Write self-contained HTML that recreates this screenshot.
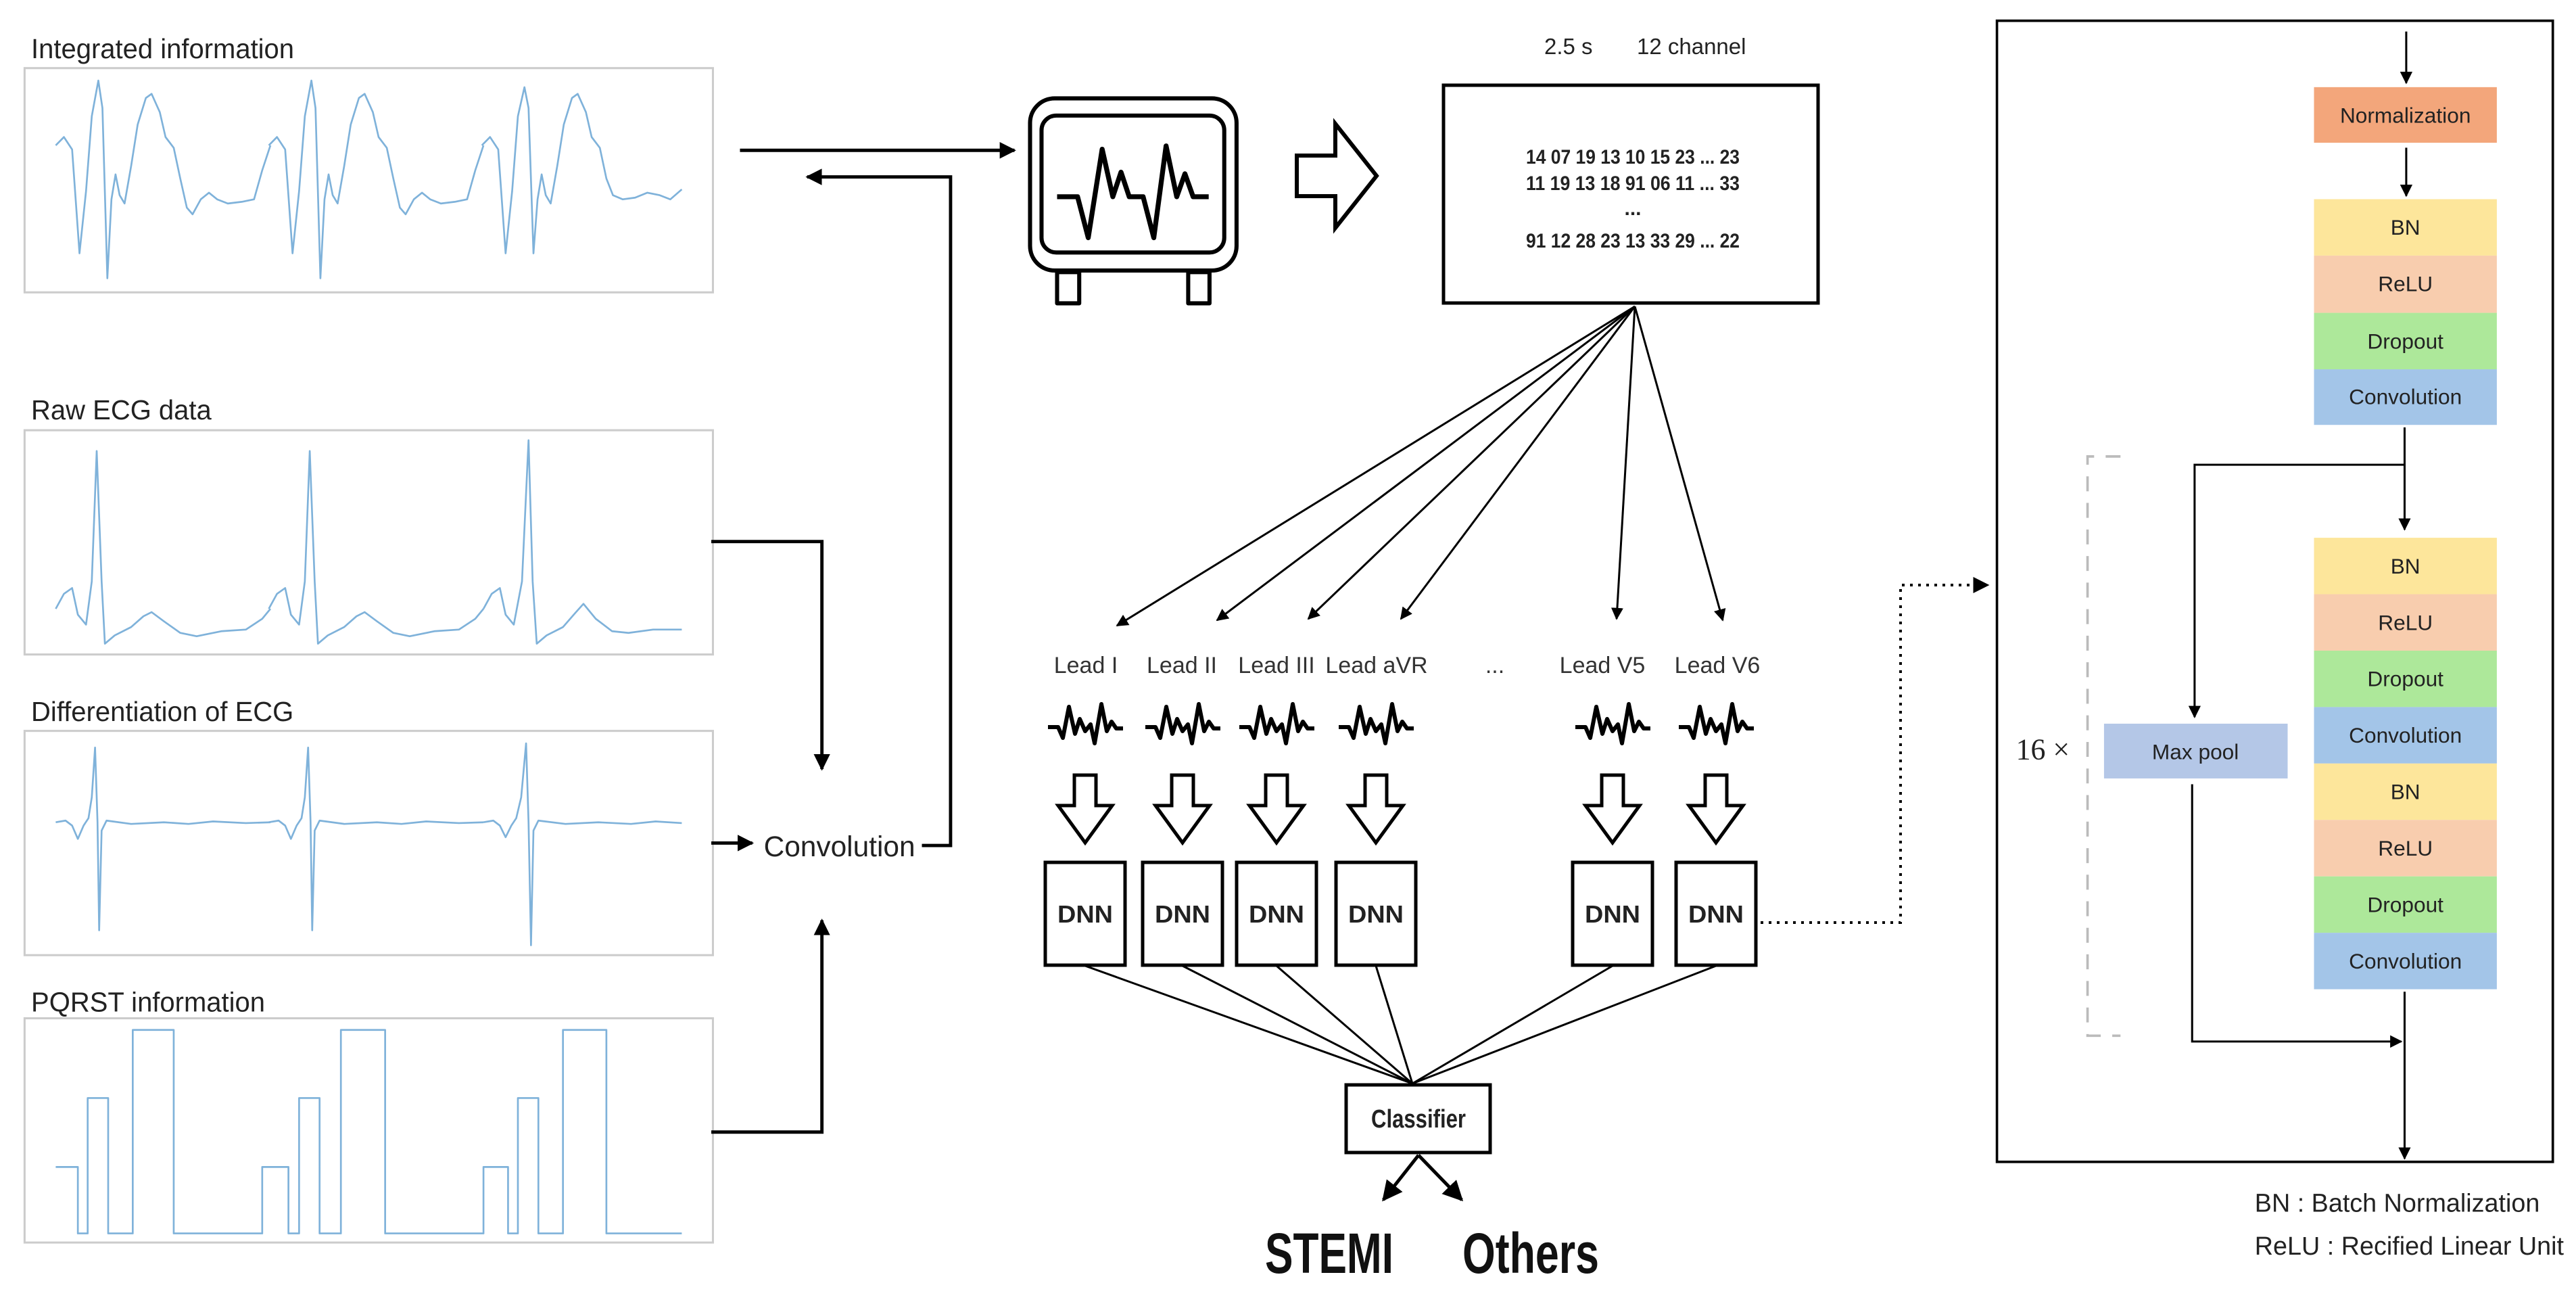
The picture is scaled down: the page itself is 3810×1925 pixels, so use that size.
<!DOCTYPE html>
<html><head><meta charset="utf-8"><style>
html,body{margin:0;padding:0;background:#fff;}
svg{display:block;font-family:"Liberation Sans",sans-serif;}
</style></head><body>
<svg width="3810" height="1925" viewBox="0 0 3810 1925" xmlns="http://www.w3.org/2000/svg">
<defs>
<marker id="ah" viewBox="0 0 10 10" refX="9" refY="5" markerWidth="5" markerHeight="5" orient="auto" markerUnits="strokeWidth"><path d="M0,0 L10,5 L0,10 Z" fill="#000"/></marker>
<marker id="ahs" viewBox="0 0 10 10" refX="9" refY="5" markerWidth="6" markerHeight="6" orient="auto" markerUnits="strokeWidth"><path d="M0,0 L10,5 L0,10 Z" fill="#000"/></marker>
<path id="sq" d="M-55,0 L-40,0 L-33,16 L-24,-30 L-15,10 L-8,-12 L0,6 L8,-4 L14,24 L24,-34 L32,6 L39,-8 L46,2 L56,2" fill="none" stroke="#000" stroke-width="6" stroke-linejoin="round"/>
<path id="da" d="M-16,0 L16,0 L16,45 L40,45 L0,100 L-40,45 L-16,45 Z" fill="#fff" stroke="#000" stroke-width="5"/>
<path id="ib" d="M68,175 L78,165 L88,180 L97,305 L105,230 L112,140 L120,97 L125,130 L131,335 L136,240 L141,210 L146,235 L152,245 L160,200 L168,150 L178,118 L185,113 L195,135 L202,165 L212,178 L220,215 L228,250 L235,258 L245,240 L255,232 L265,240 L278,245 L295,243 L310,240 L320,205 L330,175"/>
<path id="rb" d="M68,733 L78,715 L88,708 L95,740 L105,752 L112,700 L118,543 L124,700 L128,775 L140,765 L160,755 L175,742 L185,737 L200,748 L220,762 L240,766 L270,760 L300,758 L320,745 L330,733"/>
<path id="db" d="M68,990 L80,988 L88,994 L95,1010 L102,994 L108,985 L112,960 L116,900 L119,990 L121,1120 L124,1000 L130,988 L160,992 L200,990 L230,992 L260,989 L300,991 L330,990"/>
</defs>

<g transform="scale(1.212,1.228)">
  <g font-size="33" fill="#222">
    <text x="38" y="70">Integrated information</text>
    <text x="38" y="505">Raw ECG data</text>
    <text x="38" y="868">Differentiation of ECG</text>
    <text x="38" y="1218">PQRST information</text>
  </g>
  <g fill="#fff" stroke="#ccc" stroke-width="2.5">
    <rect x="30" y="82" width="840" height="270"/>
    <rect x="30" y="518" width="840" height="270"/>
    <rect x="30" y="880" width="840" height="270"/>
    <rect x="30" y="1226" width="840" height="270"/>
  </g>
  <g fill="none" stroke="#7fb2da" stroke-width="2.2" stroke-linejoin="round">
    <use href="#ib"/><use href="#ib" transform="translate(260,0)"/>
    <path d="M588,175 L598,165 L608,180 L617,305 L625,230 L632,140 L640,105 L645,130 L651,305 L656,240 L661,210 L666,235 L672,245 L680,200 L688,150 L698,118 L705,113 L715,135 L722,165 L732,178 L740,215 L748,235 L760,240 L775,238 L790,232 L805,235 L818,240 L832,228"/>
    <use href="#rb"/><use href="#rb" transform="translate(260,0)"/>
    <path d="M590,733 L600,715 L610,708 L617,740 L627,752 L637,700 L645,530 L650,700 L655,775 L667,765 L687,755 L702,738 L712,727 L727,745 L747,760 L767,762 L797,758 L832,758"/>
    <use href="#db"/><use href="#db" transform="translate(260,0)"/>
    <path d="M590,990 L602,988 L610,994 L617,1008 L624,994 L630,985 L636,960 L642,895 L645,990 L648,1138 L651,1000 L657,988 L690,992 L730,990 L770,992 L800,989 L832,991"/>
    <path d="M68,1405 L95,1405 L95,1485 L107,1485 L107,1322 L132,1322 L132,1485 L162,1485 L162,1240 L212,1240 L212,1485 L320,1485 L320,1405 L352,1405 L352,1485 L365,1485 L365,1322 L390,1322 L390,1485 L416,1485 L416,1240 L470,1240 L470,1485 L590,1485 L590,1405 L620,1405 L620,1485 L632,1485 L632,1322 L657,1322 L657,1485 L687,1485 L687,1240 L740,1240 L740,1485 L832,1485"/>
  </g>
  <g fill="none" stroke="#000" stroke-width="4">
    <path d="M903,181 L1238,181" marker-end="url(#ah)"/>
    <path d="M1125,1018 L1160,1018 L1160,213 L985,213" marker-end="url(#ah)"/>
    <path d="M868,652 L1003,652 L1003,926" marker-end="url(#ah)"/>
    <path d="M868,1363 L1003,1363 L1003,1108" marker-end="url(#ah)"/>
    <path d="M868,1015 L918,1015" marker-end="url(#ah)"/>
  </g>
  <text x="932" y="1031" font-size="35" fill="#222">Convolution</text>
</g>
<g transform="scale(1.212)" fill="none" stroke="#000" stroke-width="5" stroke-linejoin="round">
  <rect x="1257" y="120" width="252" height="210" rx="30"/>
  <rect x="1271" y="141" width="223" height="167" rx="18"/>
  <rect x="1290" y="332" width="27" height="38"/>
  <rect x="1450" y="332" width="26" height="38"/>
  <path stroke-width="6" d="M1290,240 L1315,240 L1328,290 L1345,182 L1358,240 L1368,210 L1378,240 L1395,240 L1408,290 L1423,178 L1436,240 L1446,212 L1456,240 L1475,240"/>
</g>

<path d="M1918,230 L1975,230 L1975,183 L2036,260 L1975,337 L1975,290 L1918,290 Z" fill="#fff" stroke="#000" stroke-width="6" stroke-linejoin="miter"/>
<text x="2284" y="80" font-size="33" fill="#222">2.5 s</text>
<text x="2421" y="80" font-size="33" fill="#222">12 channel</text>
<rect x="2135" y="126" width="554" height="322" fill="#fff" stroke="#000" stroke-width="5"/>
<g font-size="30" fill="#222" font-weight="bold" text-anchor="middle">
  <text x="2415" y="242" textLength="316" lengthAdjust="spacingAndGlyphs">14 07 19 13 10 15 23 ... 23</text>
  <text x="2415" y="281" textLength="316" lengthAdjust="spacingAndGlyphs">11 19 13 18 91 06 11 ... 33</text>
  <text x="2415" y="318">...</text>
  <text x="2415" y="366" textLength="316" lengthAdjust="spacingAndGlyphs">91 12 28 23 13 33 29 ... 22</text>
</g>
<g stroke="#000" stroke-width="3" fill="none">
  <path d="M2418,453 L1652,925" marker-end="url(#ahs)"/>
  <path d="M2418,453 L1800,917" marker-end="url(#ahs)"/>
  <path d="M2418,453 L1935,915" marker-end="url(#ahs)"/>
  <path d="M2418,453 L2072,915" marker-end="url(#ahs)"/>
  <path d="M2418,453 L2391,915" marker-end="url(#ahs)"/>
  <path d="M2418,453 L2548,917" marker-end="url(#ahs)"/>
</g>
<g font-size="34" fill="#333" text-anchor="middle">
  <text x="1606" y="995">Lead I</text>
  <text x="1748" y="995">Lead II</text>
  <text x="1888" y="995">Lead III</text>
  <text x="2036" y="995">Lead aVR</text>
  <text x="2211" y="995">...</text>
  <text x="2370" y="995">Lead V5</text>
  <text x="2540" y="995">Lead V6</text>
</g>
<g>
  <use href="#sq" transform="translate(1605,1075)"/>
  <use href="#sq" transform="translate(1749,1075)"/>
  <use href="#sq" transform="translate(1888,1075)"/>
  <use href="#sq" transform="translate(2035,1075)"/>
  <use href="#sq" transform="translate(2385,1075)"/>
  <use href="#sq" transform="translate(2538,1075)"/>
  <use href="#da" transform="translate(1605,1146)"/>
  <use href="#da" transform="translate(1749,1146)"/>
  <use href="#da" transform="translate(1888,1146)"/>
  <use href="#da" transform="translate(2035,1146)"/>
  <use href="#da" transform="translate(2385,1146)"/>
  <use href="#da" transform="translate(2538,1146)"/>
</g>
<g stroke="#000" stroke-width="3">
  <line x1="1605" y1="1428" x2="2089" y2="1602"/>
  <line x1="1749" y1="1428" x2="2089" y2="1602"/>
  <line x1="1888" y1="1428" x2="2089" y2="1602"/>
  <line x1="2035" y1="1428" x2="2089" y2="1602"/>
  <line x1="2385" y1="1428" x2="2089" y2="1602"/>
  <line x1="2538" y1="1428" x2="2089" y2="1602"/>
</g>
<g fill="#fff" stroke="#000" stroke-width="5">
  <rect x="1546" y="1275" width="118" height="152"/>
  <rect x="1690" y="1275" width="118" height="152"/>
  <rect x="1829" y="1275" width="118" height="152"/>
  <rect x="1976" y="1275" width="118" height="152"/>
  <rect x="2326" y="1275" width="118" height="152"/>
  <rect x="2479" y="1275" width="118" height="152"/>
  <rect x="1991" y="1604" width="213" height="100"/>
</g>
<g font-size="36" font-weight="bold" fill="#222" text-anchor="middle">
  <text x="1605" y="1364" textLength="82" lengthAdjust="spacingAndGlyphs">DNN</text>
  <text x="1749" y="1364" textLength="82" lengthAdjust="spacingAndGlyphs">DNN</text>
  <text x="1888" y="1364" textLength="82" lengthAdjust="spacingAndGlyphs">DNN</text>
  <text x="2035" y="1364" textLength="82" lengthAdjust="spacingAndGlyphs">DNN</text>
  <text x="2385" y="1364" textLength="82" lengthAdjust="spacingAndGlyphs">DNN</text>
  <text x="2538" y="1364" textLength="82" lengthAdjust="spacingAndGlyphs">DNN</text>
  <text x="2098" y="1667" font-size="38" textLength="140" lengthAdjust="spacingAndGlyphs">Classifier</text>
</g>
<g stroke="#000" stroke-width="5" fill="none">
  <path d="M2098,1708 L2046,1774" marker-end="url(#ahs)"/>
  <path d="M2098,1708 L2162,1774" marker-end="url(#ahs)"/>
</g>
<g font-size="84" font-weight="bold" fill="#111">
  <text x="1871" y="1882" textLength="190" lengthAdjust="spacingAndGlyphs">STEMI</text>
  <text x="2163" y="1882" textLength="202" lengthAdjust="spacingAndGlyphs">Others</text>
</g>
<path d="M2604,1364 L2811,1364 L2811,865 L2940,865" fill="none" stroke="#000" stroke-width="4" stroke-dasharray="4,8" marker-end="url(#ahs)"/>

<g transform="translate(1900,0) scale(1.218,1.227)">
  <rect x="865" y="25" width="675" height="1375" fill="none" stroke="#000" stroke-width="3"/>
  <g stroke="#000" stroke-width="2.5" fill="none">
    <path d="M1362,38 L1362,100" marker-end="url(#ahs)"/>
    <path d="M1362,178 L1362,236" marker-end="url(#ahs)"/>
    <path d="M1360,515 L1360,638" marker-end="url(#ahs)"/>
    <path d="M1360,560 L1105,560 L1105,864" marker-end="url(#ahs)"/>
    <path d="M1102,945 L1102,1255 L1356,1255" marker-end="url(#ahs)"/>
    <path d="M1360,1195 L1360,1396" marker-end="url(#ahs)"/>
  </g>
  <rect x="1250" y="105" width="222" height="67" fill="#f3a67b"/>
  <rect x="1250" y="240" width="222" height="68" fill="#fde69b"/>
  <rect x="1250" y="308" width="222" height="69" fill="#f8cdae"/>
  <rect x="1250" y="377" width="222" height="68" fill="#ade89a"/>
  <rect x="1250" y="445" width="222" height="67" fill="#a3c5e8"/>
  <rect x="1250" y="648" width="222" height="68" fill="#fde69b"/>
  <rect x="1250" y="716" width="222" height="68" fill="#f8cdae"/>
  <rect x="1250" y="784" width="222" height="68" fill="#ade89a"/>
  <rect x="1250" y="852" width="222" height="68" fill="#a3c5e8"/>
  <rect x="1250" y="920" width="222" height="68" fill="#fde69b"/>
  <rect x="1250" y="988" width="222" height="68" fill="#f8cdae"/>
  <rect x="1250" y="1056" width="222" height="68" fill="#ade89a"/>
  <rect x="1250" y="1124" width="222" height="68" fill="#a3c5e8"/>
  <rect x="995" y="872" width="223" height="66" fill="#b4c7e7"/>
  <g font-size="26" fill="#222" text-anchor="middle">
    <text x="1361" y="148">Normalization</text>
    <text x="1361" y="283">BN</text>
    <text x="1361" y="351">ReLU</text>
    <text x="1361" y="420">Dropout</text>
    <text x="1361" y="487">Convolution</text>
    <text x="1361" y="691">BN</text>
    <text x="1361" y="759">ReLU</text>
    <text x="1361" y="827">Dropout</text>
    <text x="1361" y="895">Convolution</text>
    <text x="1361" y="963">BN</text>
    <text x="1361" y="1031">ReLU</text>
    <text x="1361" y="1099">Dropout</text>
    <text x="1361" y="1167">Convolution</text>
    <text x="1106" y="915">Max pool</text>
  </g>
  <path d="M1015,550 L975,550 L975,1248 L1015,1248" fill="none" stroke="#bbb" stroke-width="3" stroke-dasharray="18,14"/>
  <text x="888" y="915" font-size="36" font-family="Liberation Serif, serif" fill="#222">16 ×</text>
  <g font-size="31" fill="#222">
    <text x="1178" y="1460">BN : Batch Normalization</text>
    <text x="1178" y="1512">ReLU : Recified Linear Unit</text>
  </g>
</g>
</svg>
</body></html>
